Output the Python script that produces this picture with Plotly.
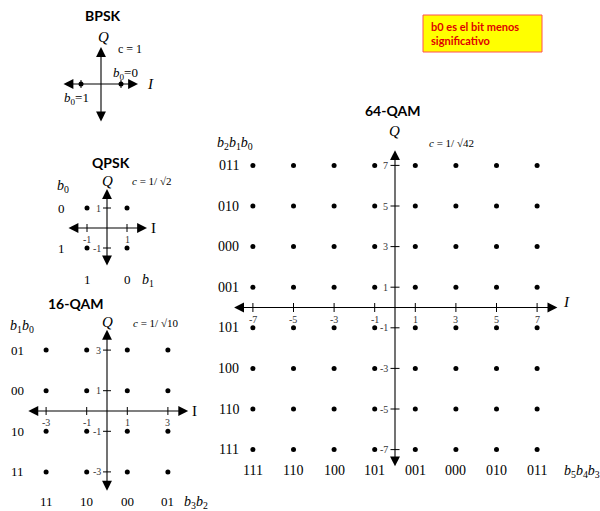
import plotly.graph_objects as go

W, H = 600, 511

# ---------------- data ----------------
bpsk_i = [-1, 1]
bpsk_q = [0, 0]
bpsk_labels = ["<i>b</i><sub>0</sub>=1", "<i>b</i><sub>0</sub>=0"]

qpsk_levels = [-1, 1]
qpsk_col_labels = ["1", "0"]          # b1 for I = -1, 1
qpsk_row_labels = ["1", "0"]          # b0 for Q = -1, 1

qam16_levels = [-3, -1, 1, 3]
qam16_col_labels = ["11", "10", "00", "01"]   # b3b2 for I = -3..3
qam16_row_labels = ["11", "10", "00", "01"]   # b1b0 for Q = -3..3

qam64_levels = [-7, -5, -3, -1, 1, 3, 5, 7]
qam64_col_labels = ["111", "110", "100", "101", "001", "000", "010", "011"]  # b5b4b3
qam64_row_labels = ["111", "110", "100", "101", "001", "000", "010", "011"]  # b2b1b0

titles = ["BPSK", "QPSK", "16-QAM", "64-QAM"]

# ---------------- layout helpers ----------------
SERIF = "Liberation Serif, Times New Roman, serif"
SANS = "Lato, Open Sans, sans-serif"

# (origin px x, origin px y, px per unit, x range, y range)
panels = [
    (101, 84, 20.0, (-4, 4), (-3, 3.8)),
    (107, 228, 20.0, (-3, 4), (-3, 3)),
    (107, 411, 20.3, (-5, 5.2), (-4.9, 4.7)),
    (395, 307.5, 20.3, (-9, 10), (-8.5, 9.5)),
]

fig = go.Figure()
layout = dict(width=W, height=H, margin=dict(l=0, r=0, t=0, b=0),
              paper_bgcolor="white", plot_bgcolor="rgba(0,0,0,0)",
              showlegend=False)
annotations = []
shapes = []

def axname(i, letter):
    return letter + ("" if i == 0 else str(i + 1))

for i, (ox, oy, s, xr, yr) in enumerate(panels):
    xd = [(ox + xr[0] * s) / W, (ox + xr[1] * s) / W]
    yd = [1 - (oy - yr[0] * s) / H, 1 - (oy - yr[1] * s) / H]
    xk = "xaxis" if i == 0 else f"xaxis{i+1}"
    yk = "yaxis" if i == 0 else f"yaxis{i+1}"
    layout[xk] = dict(domain=xd, range=list(xr), visible=False, fixedrange=True,
                      anchor=axname(i, "y"))
    layout[yk] = dict(domain=yd, range=list(yr), visible=False, fixedrange=True,
                      anchor=axname(i, "x"))

def add_points(i, xs, ys):
    fig.add_trace(go.Scatter(x=xs, y=ys, mode="markers",
                             marker=dict(color="black", size=5),
                             xaxis=axname(i, "x"), yaxis=axname(i, "y"),
                             hoverinfo="skip", cliponaxis=False))

def add_axes_arrows(i, x0, x1, y0, y1):
    xr, yr = axname(i, "x"), axname(i, "y")
    for (hx, hy, tx, ty) in [(x1, 0, x0, 0), (0, y1, 0, y0)]:
        annotations.append(dict(x=hx, y=hy, ax=tx, ay=ty, xref=xr, yref=yr,
                                axref=xr, ayref=yr, text="", showarrow=True,
                                arrowhead=2, arrowside="end+start", arrowsize=1.8,
                                arrowwidth=1.1, arrowcolor="black",
                                standoff=0, startstandoff=0))

def add_ticks(i, xticks, yticks, half, show_labels=True, fs=10):
    ox, oy, s, xr, yr = panels[i]
    hx = half / s
    xs, ys = [], []
    for t in xticks:
        xs += [t, t, None]
        ys += [-hx, hx, None]
    for t in yticks:
        xs += [-hx, hx, None]
        ys += [t, t, None]
    fig.add_trace(go.Scatter(x=xs, y=ys, mode="lines",
                             line=dict(color="black", width=1),
                             xaxis=axname(i, "x"), yaxis=axname(i, "y"),
                             hoverinfo="skip"))
    if show_labels:
        for t in xticks:
            annotations.append(dict(x=t, y=-half / s, xref=axname(i, "x"), yref=axname(i, "y"),
                                    text=str(t), showarrow=False, yanchor="top",
                                    font=dict(family=SERIF, size=fs, color="#333")))
        for t in yticks:
            annotations.append(dict(x=-half / s, y=t, xref=axname(i, "x"), yref=axname(i, "y"),
                                    text=str(t), showarrow=False, xanchor="right",
                                    font=dict(family=SERIF, size=fs, color="#333")))

def label(i, x, y, text, size=13, xanchor="center", yanchor="middle", family=SERIF):
    annotations.append(dict(x=x, y=y, xref=axname(i, "x"), yref=axname(i, "y"),
                            text=text, showarrow=False, xanchor=xanchor, yanchor=yanchor,
                            font=dict(family=family, size=size, color="black")))

# ---------------- BPSK ----------------
add_points(0, bpsk_i, bpsk_q)
add_axes_arrows(0, -1.95, 1.85, -1.95, 1.85)
add_ticks(0, bpsk_i, [], 4, show_labels=False)
label(0, 0.1, 2.35, "<i>Q</i>", 15)
label(0, 1.45, 1.75, "c = 1", 12)
label(0, 2.45, 0, "<i>I</i>", 15)
label(0, 1.2, 0.55, bpsk_labels[1], 13)
label(0, -1.25, -0.7, bpsk_labels[0], 13)

# ---------------- QPSK ----------------
add_points(1, [x for y in qpsk_levels for x in qpsk_levels],
           [y for y in qpsk_levels for x in qpsk_levels])
add_axes_arrows(1, -2.0, 2.0, -1.95, 1.95)
add_ticks(1, qpsk_levels, qpsk_levels, 4)
label(1, 0, 2.35, "<i>Q</i>", 15)
label(1, 2.2, 2.35, "<i>c</i> = 1/ √2", 11)
label(1, 2.3, 0, "I", 15)
label(1, -2.2, 2.1, "<i>b</i><sub>0</sub>", 14)
for q, t in zip(qpsk_levels, qpsk_row_labels):
    label(1, -2.3, q, t, 13)
for v, t in zip(qpsk_levels, qpsk_col_labels):
    label(1, v, -2.55, t, 13)
label(1, 2.05, -2.6, "<i>b</i><sub>1</sub>", 14)

# ---------------- 16-QAM ----------------
add_points(2, [x for y in qam16_levels for x in qam16_levels],
           [y for y in qam16_levels for x in qam16_levels])
add_axes_arrows(2, -3.95, 4.0, -4.0, 4.0)
add_ticks(2, qam16_levels, qam16_levels, 4)
label(2, 0, 4.4, "<i>Q</i>", 15)
label(2, 2.4, 4.35, "<i>c</i> = 1/ √10", 11)
label(2, 4.3, 0, "I", 15)
label(2, -4.2, 4.15, "<i>b</i><sub>1</sub><i>b</i><sub>0</sub>", 14)
for q, t in zip(qam16_levels, qam16_row_labels):
    label(2, -4.4, q, t, 13)
for v, t in zip(qam16_levels, qam16_col_labels):
    label(2, v, -4.45, t, 13)
label(2, 4.4, -4.5, "<i>b</i><sub>3</sub><i>b</i><sub>2</sub>", 14)

# ---------------- 64-QAM ----------------
add_points(3, [x for y in qam64_levels for x in qam64_levels],
           [y for y in qam64_levels for x in qam64_levels])
add_axes_arrows(3, -8.0, 8.0, -7.9, 7.75)
add_ticks(3, qam64_levels, qam64_levels, 4.5)
label(3, 0, 8.7, "<i>Q</i>", 15)
label(3, 2.8, 8.1, "<i>c</i> = 1/ √42", 11)
label(3, 8.45, 0.25, "<i>I</i>", 15)
label(3, -7.9, 8.1, "<i>b</i><sub>2</sub><i>b</i><sub>1</sub><i>b</i><sub>0</sub>", 14)
for q, t in zip(qam64_levels, qam64_row_labels):
    label(3, -8.2, q, t, 14)
for v, t in zip(qam64_levels, qam64_col_labels):
    label(3, v, -8.05, t, 14)
label(3, 8.25, -8.1, "<i>b</i><sub>5</sub><i>b</i><sub>4</sub><i>b</i><sub>3</sub>", 14,
      xanchor="left")

# ---------------- titles ----------------
title_pos = [(103, 15), (111, 162), (75, 303), (392, 110)]
for t, (px, py) in zip(titles, title_pos):
    annotations.append(dict(x=px / W, y=1 - py / H, xref="paper", yref="paper",
                            text=f"<b>{t}</b>", showarrow=False,
                            xanchor="center", yanchor="middle",
                            font=dict(family=SANS, size=14, color="black")))

# ---------------- note box ----------------
shapes.append(dict(type="rect", xref="paper", yref="paper",
                   x0=423 / W, x1=542 / W, y0=1 - 52 / H, y1=1 - 15 / H,
                   fillcolor="#ffff00", line=dict(color="#ff5050", width=1)))
annotations.append(dict(x=429 / W, y=1 - 33.5 / H, xref="paper", yref="paper",
                        text="<b>b0 es el bit menos<br>significativo</b>",
                        showarrow=False, xanchor="left", yanchor="middle", align="left",
                        font=dict(family=SANS, size=11, color="#e00000")))

layout["annotations"] = annotations
layout["shapes"] = shapes
fig.update_layout(**layout)
fig.write_html("out.html")
